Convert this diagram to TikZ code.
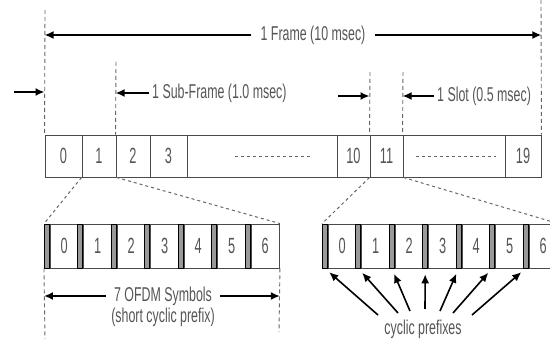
\documentclass[tikz,border=0pt]{standalone}
\usepackage{fontspec}
\setmainfont{Liberation Sans}[FakeStretch=0.62]
\newfontfamily\digitfont{Liberation Sans}[FakeStretch=0.58]
\usetikzlibrary{arrows.meta}
\definecolor{boxline}{HTML}{4A4A4A}
\definecolor{txtgrey}{HTML}{555555}
\definecolor{guidegrey}{HTML}{666666}
\definecolor{bargrey}{HTML}{999999}

\begin{document}
\begin{tikzpicture}[x=1pt, y=-1pt,
    cell/.style={draw=boxline, line width=0.9pt, minimum height=42pt, inner sep=0pt, text=txtgrey, font=\digitfont\fontsize{22}{24}\selectfont},
    sym/.style={draw=boxline, line width=0.9pt, minimum width=28.5pt, minimum height=44pt, inner sep=0pt, text=txtgrey, font=\digitfont\fontsize{22}{24}\selectfont},
    cpbar/.style={draw=black, fill=bargrey, line width=0.6pt, minimum width=5pt, minimum height=44pt, inner sep=0pt, anchor=east},
    guide/.style={draw=guidegrey, line width=0.9pt, dash pattern=on 4pt off 3pt},
    zoomline/.style={draw=guidegrey, line width=1pt, dash pattern=on 3pt off 3pt},
    dim/.style={-{Latex[length=9pt,width=8pt]}, line width=2pt},
    lbl/.style={text=txtgrey, font=\fontsize{20}{22}\selectfont, inner ysep=0pt, inner xsep=3pt}]
    \useasboundingbox (0,0) rectangle (550,339);
    \clip (0,0) rectangle (550,339);

    % frame row
    \foreach \n/\xa/\xb/\t in {c0/45/82/0, c1/82/116/1, c2/116/150/2, c3/150/187/3, d1/187/337/{}, c10/337/370/10, c11/370/403/11, d2/403/505/{}, c19/505/541/19}
        \node[cell, minimum width=\xb pt-\xa pt] (\n) at ({(\xa+\xb)/2},156) {\t};
    \draw[guide, dash pattern=on 3pt off 3pt, line width=0.8pt] ([xshift=48pt]d1.west) -- ([xshift=-25pt]d1.east);
    \draw[guide, dash pattern=on 3pt off 3pt, line width=0.8pt] ([xshift=13pt]d2.west) -- ([xshift=-9pt]d2.east);

    % slot 1 and slot 11, seven symbols each
    \foreach \i in {0,...,6}{
        \node[sym] (s\i) at ({64.25+33.5*\i},246) {\i};
        \node[cpbar] (p\i) at (s\i.west) {};
        \node[sym] (r\i) at ({342.25+33.5*\i},246) {\i};
        \node[cpbar] (q\i) at (r\i.west) {};
    }
    \draw[zoomline] (c1.south west) -- (p0.north west);
    \draw[zoomline] (c1.south east) -- (s6.north east);
    \draw[zoomline] (c11.south west) -- (q0.north west);
    \draw[zoomline] (c11.south east) -- (r6.north east);

    % guides
    \coordinate (gFrameL) at (45,10);
    \coordinate (gFrameR) at (541,0);
    \coordinate (gSub) at (116,62);
    \coordinate (gSlotA) at (370,72);
    \coordinate (gSlotB) at (403,72);
    \coordinate (gSymL) at (45,339);
    \coordinate (gSymR) at (279,332);
    \draw[guide] (gFrameL) -- (c0.north west);
    \draw[guide] (gFrameR) -- (c19.north east);
    \draw[guide] (gSub) -- (c2.north west);
    \draw[guide] (gSlotA) -- (c11.north west);
    \draw[guide] (gSlotB) -- (d2.north west);
    \draw[guide] (p0.south west) -- (gSymL);
    \draw[guide] (s6.south east) -- (gSymR);

    % frame
    \node[lbl, inner xsep=9pt] (frame) at (313,35) {1 Frame (10 msec)};
    \draw[dim, line width=2.5pt] (frame) -- (c0.north west |- frame);
    \draw[dim, line width=2.5pt] (frame) -- (c19.north east |- frame);

    % sub-frame
    \coordinate (inSub) at (14,92);
    \draw[dim] (inSub) -- (c0.north west |- inSub);
    \node[lbl, anchor=west] (subframe) at (149,93) {1 Sub-Frame (1.0 msec)};
    \draw[dim] (subframe.west) -- (c2.north west |- subframe.west);

    % slot
    \coordinate (inSlot) at (338,96);
    \draw[dim] (inSlot) -- (c11.north west |- inSlot);
    \node[lbl, anchor=west] (slot) at (434,96) {1 Slot (0.5 msec)};
    \draw[dim] (slot.west) -- (d2.north west |- slot.west);

    % symbols
    \node[lbl, inner xsep=8pt] (ofdm) at (163,296) {7 OFDM Symbols};
    \node[lbl] (ofdmsub) at (163,317) {(short cyclic prefix)};
    \draw[dim] (ofdm.west) -- (p0.south west |- ofdm.west);
    \draw[dim] (ofdm.east) -- (s6.south east |- ofdm.east);

    % cyclic prefixes
    \node[lbl] (cp) at (423,329) {cyclic prefixes};
    \foreach \i/\tx/\ty in {0/378/315, 1/398/313, 2/410/311, 3/425/309, 4/440/311, 5/453/313, 6/472/315}{
        \coordinate (t\i) at (\tx,\ty);
        \draw[dim, line width=1.6pt, shorten >=6pt] (t\i) -- (q\i.south);
    }
\end{tikzpicture}
\end{document}
